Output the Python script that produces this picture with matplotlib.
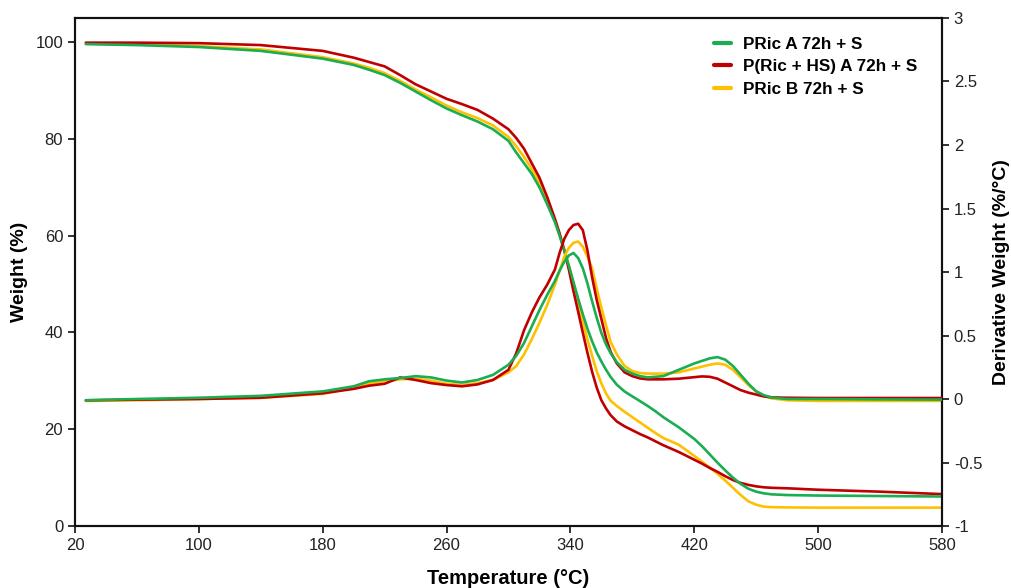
import numpy as np
import matplotlib
matplotlib.use('Agg')
import matplotlib.pyplot as plt

plt.rcParams['font.family'] = ['Liberation Sans', 'DejaVu Sans']

# 温度网格 (°C)
temp = [27, 60, 100, 140, 180, 200, 210, 220, 230, 240, 250, 260, 270, 280, 290,
        300, 305, 310, 315, 320, 325, 330, 333, 336, 339, 342, 345, 348, 351, 354,
        357, 360, 363, 366, 370, 375, 380, 385, 390, 395, 400, 410, 420, 425, 430,
        435, 440, 445, 450, 455, 460, 465, 470, 480, 500, 540, 580]

# 失重曲线 (%)
wt_a = [99.6, 99.4, 99.0, 98.2, 96.6, 95.3, 94.3, 93.2, 91.6, 89.8, 88.0, 86.3, 84.9, 83.6, 82.0,
        79.6, 77.2, 75.0, 72.8, 70.0, 66.5, 62.8, 60.0, 57.0, 53.8, 50.4, 47.0, 43.8, 40.8, 38.2,
        35.9, 34.0, 32.3, 30.8, 29.2, 27.8, 26.8, 25.8, 24.8, 23.7, 22.5, 20.4, 18.0, 16.5, 14.8,
        13.1, 11.5, 10.0, 8.7, 7.7, 7.1, 6.75, 6.55, 6.4, 6.3, 6.2, 6.1]
wt_hs = [99.9, 99.9, 99.8, 99.4, 98.2, 96.8, 95.9, 95.0, 93.2, 91.3, 89.8, 88.3, 87.2, 86.0, 84.2,
         82.0, 80.2, 78.0, 75.0, 72.0, 68.0, 63.5, 60.5, 57.0, 53.0, 48.5, 44.3, 40.0, 35.8, 31.9,
         28.6, 26.0, 24.3, 22.9, 21.6, 20.6, 19.8, 19.0, 18.3, 17.5, 16.7, 15.3, 13.7, 12.9, 12.0,
         11.2, 10.3, 9.5, 8.9, 8.5, 8.2, 8.0, 7.9, 7.8, 7.5, 7.1, 6.6]
wt_b = [99.7, 99.6, 99.2, 98.5, 96.9, 95.6, 94.7, 93.6, 92.0, 90.2, 88.6, 86.9, 85.5, 84.3, 82.8,
        80.4, 78.5, 76.3, 73.8, 71.0, 67.0, 63.0, 60.2, 57.2, 53.8, 50.0, 46.2, 42.3, 38.6, 35.2,
        32.0, 29.5, 27.4, 25.9, 24.8, 23.6, 22.5, 21.4, 20.3, 19.2, 18.2, 16.8, 14.5, 13.3, 12.1,
        10.8, 9.4, 7.9, 6.4, 5.1, 4.4, 4.0, 3.9, 3.85, 3.8, 3.8, 3.8]

# 微分失重曲线 (%/°C)
dtg_a = [-0.01, 0.0, 0.01, 0.025, 0.06, 0.10, 0.14, 0.155, 0.165, 0.18, 0.17, 0.145, 0.13, 0.15, 0.19,
         0.27, 0.34, 0.44, 0.57, 0.70, 0.82, 0.93, 1.01, 1.08, 1.13, 1.15, 1.11, 1.03, 0.91, 0.77,
         0.64, 0.52, 0.43, 0.36, 0.29, 0.23, 0.20, 0.18, 0.17, 0.175, 0.18, 0.23, 0.28, 0.30, 0.32,
         0.33, 0.31, 0.26, 0.19, 0.12, 0.06, 0.03, 0.012, 0.0, 0.0, -0.003, -0.005]
dtg_hs = [-0.01, -0.005, 0.0, 0.01, 0.045, 0.08, 0.105, 0.12, 0.17, 0.15, 0.125, 0.11, 0.10, 0.115, 0.15,
          0.23, 0.36, 0.54, 0.68, 0.80, 0.90, 1.02, 1.15, 1.26, 1.33, 1.37, 1.38, 1.33, 1.17, 0.96,
          0.78, 0.63, 0.48, 0.37, 0.28, 0.21, 0.18, 0.162, 0.155, 0.155, 0.155, 0.16, 0.172, 0.178, 0.175,
          0.16, 0.13, 0.10, 0.07, 0.05, 0.035, 0.02, 0.013, 0.01, 0.008, 0.008, 0.008]
dtg_b = [-0.015, -0.01, 0.0, 0.01, 0.04, 0.09, 0.12, 0.14, 0.155, 0.16, 0.145, 0.12, 0.11, 0.125, 0.15,
         0.21, 0.26, 0.35, 0.47, 0.60, 0.74, 0.90, 1.01, 1.12, 1.19, 1.23, 1.24, 1.20, 1.12, 1.03,
         0.87, 0.72, 0.58, 0.45, 0.35, 0.26, 0.22, 0.205, 0.20, 0.20, 0.20, 0.21, 0.24, 0.255, 0.27,
         0.28, 0.27, 0.23, 0.17, 0.11, 0.06, 0.025, 0.005, -0.01, -0.015, -0.015, -0.015]

labels = ['PRic A 72h + S', 'P(Ric + HS) A 72h + S', 'PRic B 72h + S']
colors = ['#1aad52', '#c00000', '#ffc000']

x_ticks = [20, 100, 180, 260, 340, 420, 500, 580]
left_ticks = [0, 20, 40, 60, 80, 100]
right_ticks = [-1, -0.5, 0, 0.5, 1, 1.5, 2, 2.5, 3]
right_labels = ['-1', '-0.5', '0', '0.5', '1', '1.5', '2', '2.5', '3']

fig = plt.figure(figsize=(10.12, 5.88), dpi=100)
ax = fig.add_axes([0.0741, 0.1054, 0.8567, 0.8640])
ax2 = ax.twinx()

series_w = [wt_a, wt_hs, wt_b]
series_d = [dtg_a, dtg_hs, dtg_b]
z = [4, 3, 2]
handles = []
for w, d, c, lab, zz in zip(series_w, series_d, colors, labels, z):
    h, = ax.plot(temp, w, color=c, lw=1.9, label=lab, zorder=zz,
                 solid_joinstyle='round', solid_capstyle='round')
    ax2.plot(temp, d, color=c, lw=1.9, zorder=zz,
             solid_joinstyle='round', solid_capstyle='round')
    handles.append(h)

ax.set_xlim(20, 580)
ax.set_ylim(0, 105)
ax2.set_ylim(-1, 3)

ax.set_xticks(x_ticks)
ax.set_yticks(left_ticks)
ax2.set_yticks(right_ticks)
ax2.set_yticklabels(right_labels)

for a in (ax, ax2):
    a.tick_params(direction='out', length=5, width=1.3, labelsize=12, colors='#222222')
    for s in a.spines.values():
        s.set_linewidth(1.5)
        s.set_color('#111111')

ax.set_xlabel('Temperature (°C)', fontsize=14.5, fontweight='bold', labelpad=12)
ax.set_ylabel('Weight (%)', fontsize=14, fontweight='bold', labelpad=5)
ax2.set_ylabel('Derivative Weight (%/°C)', fontsize=14, fontweight='bold', labelpad=8)

leg = ax2.legend(handles, labels, loc='upper left', bbox_to_anchor=(0.737, 0.963),
                 frameon=False, prop={'size': 12.3, 'weight': 'bold'},
                 handlelength=1.0, handletextpad=0.7, labelspacing=0.45,
                 borderpad=0, borderaxespad=0)
for lh in leg.get_lines():
    lh.set_linewidth(3)

fig.savefig('out.png', dpi=100)
